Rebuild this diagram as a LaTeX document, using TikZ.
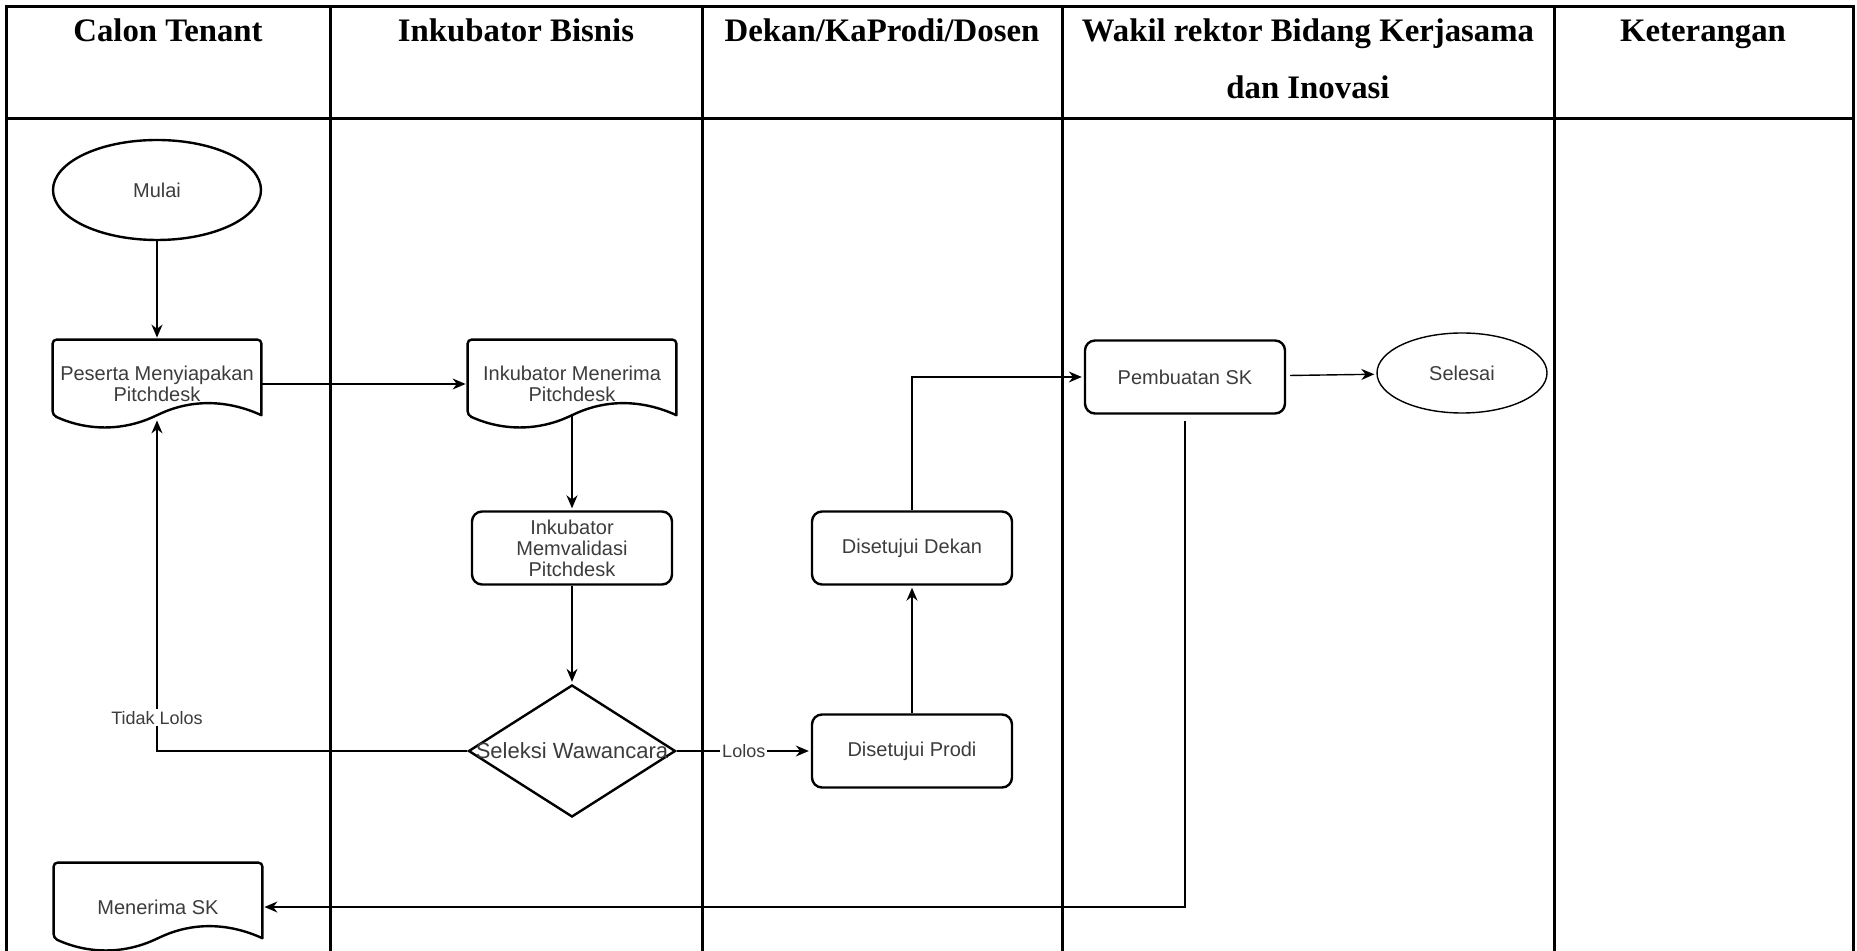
\documentclass[tikz,border=0pt]{standalone}
\usepackage{fontspec}
\setmainfont{Liberation Serif}
\newfontfamily\flowfont{Liberation Sans}
\usepackage{tikz}
\usetikzlibrary{shapes.geometric,arrows.meta,positioning}

\definecolor{textgrey}{HTML}{3C3C3C}
\newcommand{\boxfont}{\flowfont\fontsize{10}{10.5}\selectfont}
\newcommand{\condfont}{\flowfont\fontsize{9}{10}\selectfont}

% document symbol: straight top and sides, wavy bottom
\newcommand{\docoutline}[1]{%
  \draw[line width=1.2pt,rounded corners=2pt,line cap=round]
    ([yshift=6.6pt]#1.south east) -- (#1.north east) -- (#1.north west)
    -- ([yshift=6.6pt]#1.south west)
    .. controls ([xshift=17.3pt,yshift=-1.3pt]#1.south west)
       and ([xshift=-17.3pt,yshift=-1.3pt]#1.south) .. ([yshift=6.6pt]#1.south)
    .. controls ([xshift=17.3pt,yshift=14.5pt]#1.south)
       and ([xshift=-17.3pt,yshift=14.5pt]#1.south east) .. ([yshift=6.6pt]#1.south east);}

\begin{document}
\begin{tikzpicture}[x=0.5pt,y=-0.5pt,on grid,>={Stealth[length=6.5pt,width=5.5pt]},
  tableline/.style={line width=1.5pt},
  lanehead/.style={font=\bfseries\fontsize{16.4}{28.5}\selectfont,align=center,anchor=base},
  terminal/.style={ellipse,draw,line width=1.2pt,minimum width=104pt,minimum height=50pt,inner sep=0pt,font=\boxfont,text=textgrey},
  docbox/.style={rectangle,minimum width=104pt,minimum height=44pt,inner sep=1pt,align=center,font=\boxfont,text=textgrey},
  procbox/.style={rectangle,rounded corners=5pt,draw,line width=1.2pt,minimum width=100pt,minimum height=36.5pt,inner sep=1pt,align=center,font=\boxfont,text=textgrey},
  decision/.style={diamond,draw,line width=1.2pt,minimum width=103.5pt,minimum height=66pt,inner sep=0pt,font=\flowfont\fontsize{11}{12}\selectfont,text=textgrey},
  flow/.style={->,line width=0.7pt,shorten >=1pt},
  cond/.style={fill=white,inner sep=1pt,font=\condfont,text=textgrey}]
  \useasboundingbox (0,0) rectangle (1857,951);

  % swimlane table
  \draw[tableline] (6,951) -- (6,7) -- (1853,7) -- (1853,951);
  \draw[tableline] (6,119) -- (1853,119);
  \foreach \x in {330,702,1062,1554}
    \draw[tableline] (\x,7) -- (\x,951);

  \node[lanehead] (hcalon) at (168,42) {Calon Tenant};
  \node[lanehead] (hinkub) at (516,42) {Inkubator Bisnis};
  \node[lanehead] (hdekan) at (882,42) {Dekan/KaProdi/Dosen};
  \node[lanehead] (hwakil) at (1308,99) {Wakil rektor Bidang Kerjasama\\dan Inovasi};
  \node[lanehead] (hket) at (1703,42) {Keterangan};

  % flow
  \node[terminal] (mulai) at (157,190) {Mulai};
  \node[docbox] (peserta) at (157,384) {Peserta Menyiapakan\\Pitchdesk};
  \node[docbox,right=207.5pt of peserta] (inkm) {Inkubator Menerima\\Pitchdesk};
  \node[procbox,below=82pt of inkm] (valid) {Inkubator\\Memvalidasi\\Pitchdesk};
  \node[decision,below=101.5pt of valid] (seleksi) {\makebox[0pt]{Seleksi Wawancara}};
  \node[procbox,right=170pt of seleksi] (prodi) {Disetujui Prodi};
  \node[procbox,above=101.5pt of prodi] (dekan) {Disetujui Dekan};
  \node[procbox] (buatsk) at (1185,377) {Pembuatan SK};
  \node[terminal,line width=0.7pt,minimum width=85pt,minimum height=40pt] (selesai) at (1462,373) {Selesai};
  \node[docbox] (terimask) at (158,907) {Menerima SK};

  \docoutline{peserta}
  \docoutline{inkm}
  \docoutline{terimask}

  \draw[flow] (mulai) -- (peserta);
  \draw[flow] (peserta) -- (inkm);
  \draw[flow] ([yshift=6.6pt]inkm.south) -- (valid);
  \draw[flow] (valid) -- (seleksi);
  \draw[flow] (seleksi) -| node[cond,pos=0.55] {Tidak Lolos} ([yshift=5pt]peserta.south);
  \draw[flow] (seleksi) -- node[cond] {Lolos} (prodi);
  \draw[flow] (prodi) -- (dekan);
  \draw[flow] (dekan) |- (buatsk);
  \draw[flow,shorten <=2pt] (buatsk) -- (selesai);
  \draw[flow,shorten <=3pt] (buatsk) |- (terimask);
\end{tikzpicture}
\end{document}
